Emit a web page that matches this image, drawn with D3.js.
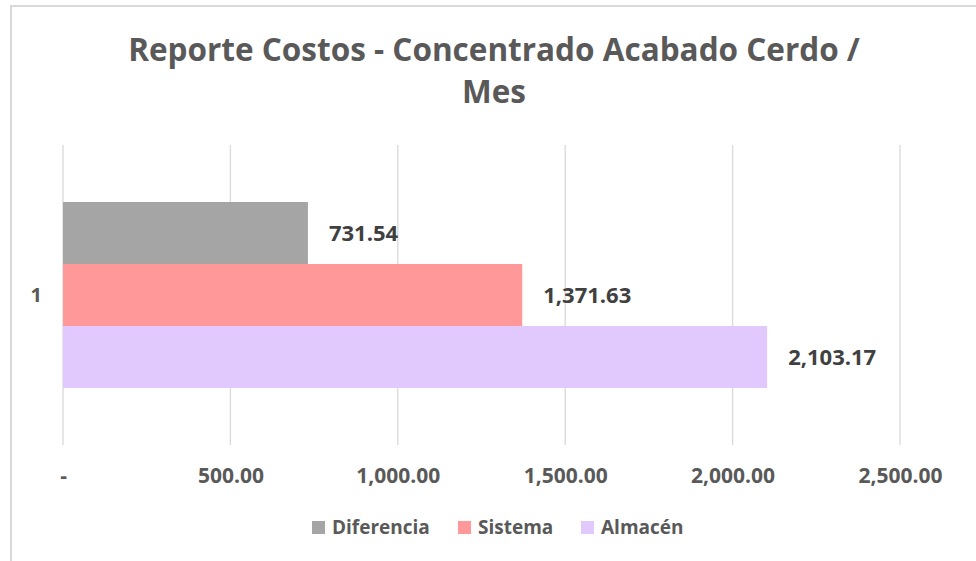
<!DOCTYPE html>
<html>
<head>
<meta charset="utf-8">
<script src="https://cdn.jsdelivr.net/npm/d3@7"></script>
<style>
  body { margin: 0; background: #fff; }
  svg { display: block; font-family: "Open Sans", sans-serif; }
</style>
</head>
<body>
<div id="chart"></div>
<script>
const categories = ["1"];
const seriesNames = ["Diferencia", "Sistema", "Almacén"];
const seriesValues = [731.54, 1371.63, 2103.17];
const seriesColors = ["#a5a5a5", "#ff9999", "#e2c9fd"];
const xTicks = [0, 500, 1000, 1500, 2000, 2500];
const titleLines = ["Reporte Costos - Concentrado Acabado Cerdo /", "Mes"];

const width = 976;
const height = 561;

const svg = d3.select("#chart")
  .append("svg")
  .attr("width", width)
  .attr("height", height);

// chart frame (cut off at the right and bottom of the screenshot)
svg.append("path")
  .attr("d", `M11,${height} V6 H${width}`)
  .attr("fill", "none")
  .attr("stroke", "#d9d9d9")
  .attr("stroke-width", 2);

// title
svg.append("text")
  .attr("text-anchor", "middle")
  .attr("fill", "#595959")
  .attr("font-size", 31.5)
  .attr("font-weight", "bold")
  .selectAll("tspan")
  .data(titleLines)
  .enter()
  .append("tspan")
  .attr("x", 494)
  .attr("y", (d, i) => 61 + i * 42)
  .text(d => d);

// scales
const x = d3.scaleLinear()
  .domain([0, 2500])
  .range([63, 900]);

const y = d3.scaleBand()
  .domain(categories)
  .range([145, 445])
  .paddingOuter(0.3065)
  .paddingInner(0);

const ySeries = d3.scaleBand()
  .domain(seriesNames)
  .range([0, y.bandwidth()]);

// gridlines
svg.append("g")
  .selectAll("line")
  .data(xTicks)
  .enter()
  .append("line")
  .attr("x1", d => x(d))
  .attr("x2", d => x(d))
  .attr("y1", 145)
  .attr("y2", 445)
  .attr("stroke", "#d9d9d9")
  .attr("stroke-width", 1.3);

// x axis labels
const xAxis = d3.axisBottom(x)
  .tickValues(xTicks)
  .tickSize(0)
  .tickPadding(0)
  .tickFormat(d => d === 0 ? "-" : d3.format(",.2f")(d));

const gx = svg.append("g")
  .attr("transform", "translate(0,483)")
  .call(xAxis);
gx.select(".domain").remove();
gx.selectAll("text")
  .attr("dy", 0)
  .attr("fill", "#595959")
  .attr("font-size", 21)
  .attr("font-weight", "bold")
  .attr("font-family", "'Open Sans', sans-serif");

// y axis label
const yAxis = d3.axisLeft(y).tickSize(0).tickPadding(0);
const gy = svg.append("g")
  .attr("transform", "translate(42,0)")
  .call(yAxis);
gy.select(".domain").remove();
gy.selectAll("text")
  .attr("dy", "0.35em")
  .attr("fill", "#595959")
  .attr("font-size", 20)
  .attr("font-weight", "bold")
  .attr("font-family", "'Open Sans', sans-serif");

// bars
const rows = seriesNames.map((name, i) => ({ name, value: seriesValues[i], color: seriesColors[i] }));

const group = svg.append("g")
  .attr("transform", `translate(0,${y(categories[0])})`);

group.selectAll("rect")
  .data(rows)
  .enter()
  .append("rect")
  .attr("x", x(0))
  .attr("y", d => ySeries(d.name))
  .attr("width", d => x(d.value) - x(0))
  .attr("height", ySeries.bandwidth())
  .attr("fill", d => d.color);

// value labels
group.selectAll("text.value")
  .data(rows)
  .enter()
  .append("text")
  .attr("class", "value")
  .attr("x", d => x(d.value) + 21)
  .attr("y", d => ySeries(d.name) + ySeries.bandwidth() / 2)
  .attr("dy", "0.35em")
  .attr("fill", "#404040")
  .attr("font-size", 22)
  .attr("font-weight", "bold")
  .text(d => d3.format(",.2f")(d.value));

// legend
const legendX = [312, 458, 581];
const legend = svg.append("g")
  .selectAll("g")
  .data(rows)
  .enter()
  .append("g")
  .attr("transform", (d, i) => `translate(${legendX[i]},521)`);

legend.append("rect")
  .attr("width", 13)
  .attr("height", 13)
  .attr("fill", d => d.color);

legend.append("text")
  .attr("x", 20)
  .attr("y", 6.5)
  .attr("dy", "0.35em")
  .attr("fill", "#595959")
  .attr("font-size", 19)
  .attr("font-weight", "bold")
  .text(d => d.name);
</script>
</body>
</html>
